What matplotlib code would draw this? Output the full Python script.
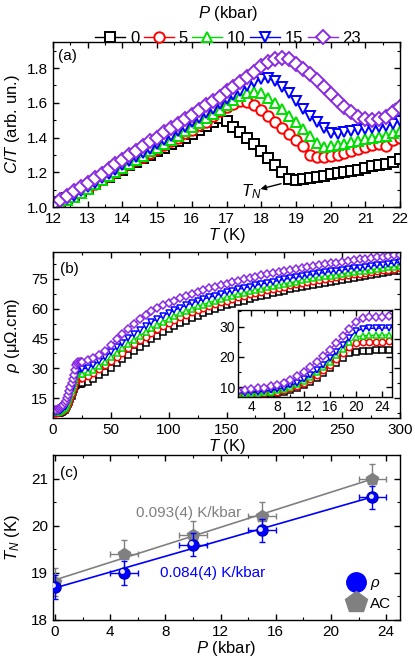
import matplotlib
matplotlib.use('Agg')
import matplotlib.pyplot as plt
from matplotlib.ticker import MultipleLocator
from matplotlib.transforms import offset_copy

plt.rcParams['font.family'] = 'Liberation Sans'
plt.rcParams['mathtext.fontset'] = 'custom'
plt.rcParams['mathtext.rm'] = 'Liberation Sans'
plt.rcParams['mathtext.it'] = 'Liberation Sans:italic'
plt.rcParams['font.size'] = 11
plt.rcParams['axes.linewidth'] = 1.0

# pressures and styles
pressures = ['0', '5', '10', '15', '23']
colors = ['#000000', '#ff0000', '#00dd00', '#0000ff', '#8a2be2']
markers = ['s', 'o', '^', 'v', 'D']

# (a) specific heat C/T vs T
T_cp = [12.0, 12.2, 12.4, 12.6, 12.8, 13.0, 13.2, 13.4, 13.6, 13.8,
        14.0, 14.2, 14.4, 14.6, 14.8, 15.0, 15.2, 15.4, 15.6, 15.8,
        16.0, 16.2, 16.4, 16.6, 16.8, 17.0, 17.2, 17.4, 17.6, 17.8,
        18.0, 18.2, 18.4, 18.6, 18.8, 19.0, 19.2, 19.4, 19.6, 19.8,
        20.0, 20.2, 20.4, 20.6, 20.8, 21.0, 21.2, 21.4, 21.6, 21.8, 22.0]
cp_0 = [1.01, 1.03, 1.05, 1.07, 1.09, 1.11, 1.13, 1.155, 1.175, 1.195,
        1.215, 1.24, 1.26, 1.28, 1.30, 1.32, 1.34, 1.36, 1.38, 1.40,
        1.42, 1.445, 1.465, 1.49, 1.51, 1.495, 1.46, 1.43, 1.40, 1.36,
        1.32, 1.28, 1.24, 1.20, 1.16, 1.155, 1.16, 1.165, 1.17, 1.18,
        1.19, 1.195, 1.20, 1.21, 1.215, 1.225, 1.235, 1.24, 1.25, 1.26, 1.275]
cp_5 = [1.005, 1.03, 1.05, 1.07, 1.09, 1.11, 1.135, 1.16, 1.18, 1.20,
        1.225, 1.245, 1.27, 1.29, 1.31, 1.335, 1.355, 1.38, 1.40, 1.425,
        1.445, 1.47, 1.49, 1.525, 1.55, 1.575, 1.595, 1.61, 1.605, 1.59,
        1.56, 1.525, 1.49, 1.455, 1.42, 1.385, 1.35, 1.30, 1.285, 1.29,
        1.295, 1.30, 1.31, 1.325, 1.335, 1.345, 1.355, 1.365, 1.35, 1.385, 1.40]
cp_10 = [1.00, 1.02, 1.04, 1.06, 1.08, 1.105, 1.13, 1.155, 1.18, 1.20,
         1.225, 1.25, 1.27, 1.295, 1.32, 1.34, 1.365, 1.385, 1.41, 1.435,
         1.46, 1.485, 1.51, 1.535, 1.56, 1.59, 1.615, 1.64, 1.655, 1.66,
         1.655, 1.63, 1.60, 1.565, 1.525, 1.49, 1.45, 1.41, 1.37, 1.345,
         1.35, 1.355, 1.365, 1.375, 1.38, 1.39, 1.40, 1.405, 1.41, 1.425, 1.44]
cp_15 = [1.00, 1.025, 1.045, 1.065, 1.09, 1.115, 1.14, 1.165, 1.19, 1.215,
         1.24, 1.265, 1.29, 1.31, 1.335, 1.36, 1.385, 1.41, 1.435, 1.46,
         1.49, 1.515, 1.54, 1.565, 1.595, 1.62, 1.645, 1.67, 1.695, 1.72,
         1.735, 1.74, 1.725, 1.69, 1.655, 1.61, 1.565, 1.525, 1.49, 1.455,
         1.425, 1.42, 1.43, 1.44, 1.445, 1.45, 1.455, 1.46, 1.465, 1.48, 1.495]
cp_23 = [1.015, 1.04, 1.065, 1.09, 1.115, 1.14, 1.165, 1.19, 1.22, 1.245,
         1.27, 1.30, 1.325, 1.35, 1.38, 1.40, 1.43, 1.455, 1.48, 1.505,
         1.53, 1.56, 1.585, 1.61, 1.635, 1.665, 1.69, 1.72, 1.75, 1.78,
         1.81, 1.835, 1.85, 1.86, 1.85, 1.825, 1.795, 1.765, 1.73, 1.69,
         1.65, 1.61, 1.575, 1.545, 1.52, 1.505, 1.50, 1.505, 1.52, 1.545, 1.575]

# (b) resistivity vs T (first 24 points also go in the inset)
T_rho = [2, 3, 4, 5, 6, 7, 8, 9, 10, 11, 12, 13, 14, 15, 16, 17, 18, 19, 20, 21, 22, 23, 24,
         25, 30, 35, 40, 45, 50, 55, 60, 65, 70, 75, 80, 85, 90, 95, 100,
         105, 110, 115, 120, 125, 130, 135, 140, 145, 150, 155, 160, 165, 170, 175, 180,
         185, 190, 195, 200, 205, 210, 215, 220, 225, 230, 235, 240, 245, 250,
         255, 260, 265, 270, 275, 280, 285, 290, 295, 300]
rho_0 = [7.4, 7.4, 7.5, 7.6, 7.7, 7.9, 8.2, 8.6, 9.1, 9.9, 10.8, 11.9, 13.2, 14.7, 16.3,
         18.0, 19.6, 21.2, 21.8, 22.0, 22.1, 22.2, 22.3] + \
        [22.4, 23.2, 24.7, 26.5, 28.4, 30.4, 32.5, 34.6, 36.7, 38.8, 40.8, 42.8, 44.7, 46.5,
         48.2, 49.8, 51.3, 52.7, 54.0, 55.3, 56.5, 57.6, 58.7, 59.7, 60.7, 61.6, 62.5, 63.3,
         64.1, 64.9, 65.7, 66.4, 67.1, 67.8, 68.5, 69.1, 69.7, 70.3, 70.9, 71.5, 72.1, 72.6,
         73.1, 73.6, 74.1, 74.6, 75.1, 75.6, 76.0, 76.5, 76.9, 77.4, 77.8, 78.3, 78.7, 79.2]
rho_5 = [7.6, 7.7, 7.8, 7.9, 8.0, 8.3, 8.6, 9.1, 9.7, 10.5, 11.5, 12.7, 14.1, 15.7, 17.5,
         19.4, 21.3, 23.2, 24.6, 24.9, 25.0, 25.0, 25.1] + \
        [25.2, 25.9, 27.6, 29.5, 31.5, 33.6, 35.8, 37.9, 40.0, 42.1, 44.1, 46.0, 47.9, 49.6,
         51.3, 52.8, 54.2, 55.6, 56.9, 58.1, 59.2, 60.3, 61.3, 62.3, 63.2, 64.1, 64.9, 65.7,
         66.5, 67.2, 67.9, 68.6, 69.3, 69.9, 70.5, 71.1, 71.7, 72.3, 72.8, 73.4, 73.9, 74.4,
         74.9, 75.4, 75.8, 76.3, 76.7, 77.2, 77.6, 78.0, 78.5, 78.9, 79.3, 79.7, 80.1, 80.5]
rho_10 = [7.8, 7.9, 8.0, 8.1, 8.3, 8.6, 9.0, 9.5, 10.1, 11.0, 12.1, 13.4, 14.9, 16.6, 18.5,
          20.6, 22.7, 24.8, 26.6, 27.0, 27.1, 27.2, 27.2] + \
         [27.3, 28.0, 29.4, 31.3, 33.4, 35.6, 37.9, 40.1, 42.3, 44.4, 46.4, 48.3, 50.1, 51.8,
          53.4, 54.9, 56.3, 57.6, 58.9, 60.0, 61.1, 62.1, 63.1, 64.0, 64.9, 65.7, 66.5, 67.3,
          68.0, 68.7, 69.4, 70.1, 70.7, 71.3, 71.9, 72.5, 73.1, 73.6, 74.2, 74.7, 75.2, 75.7,
          76.2, 76.6, 77.1, 77.5, 78.0, 78.4, 78.8, 79.2, 79.6, 80.0, 80.4, 80.8, 81.2, 81.6]
rho_15 = [8.1, 8.2, 8.3, 8.5, 8.7, 9.0, 9.4, 9.9, 10.6, 11.5, 12.6, 14.0, 15.6, 17.4, 19.5,
          21.7, 24.0, 26.3, 28.5, 29.3, 29.4, 29.5, 29.5] + \
         [29.6, 30.2, 31.7, 33.6, 35.8, 38.1, 40.5, 42.9, 45.2, 47.4, 49.5, 51.4, 53.2, 54.9,
          56.4, 57.9, 59.2, 60.5, 61.7, 62.8, 63.8, 64.8, 65.7, 66.6, 67.4, 68.2, 69.0, 69.7,
          70.4, 71.1, 71.8, 72.4, 73.0, 73.6, 74.2, 74.8, 75.3, 75.8, 76.3, 76.8, 77.3, 77.8,
          78.2, 78.7, 79.1, 79.5, 79.9, 80.3, 80.7, 81.1, 81.5, 81.8, 82.2, 82.6, 82.9, 83.3]
rho_23 = [8.9, 9.0, 9.3, 9.6, 9.9, 10.3, 10.8, 11.5, 12.4, 13.7, 15.2, 16.8, 18.5, 20.4, 22.4,
          24.6, 26.8, 29.2, 31.7, 32.8, 33.1, 33.2, 33.3] + \
         [33.4, 34.0, 35.2, 36.8, 38.9, 41.8, 44.5, 47.3, 50.0, 52.5, 54.8, 56.8, 58.6, 60.2,
          61.6, 62.9, 64.1, 65.3, 66.4, 67.4, 68.4, 69.3, 70.2, 71.0, 71.8, 72.5, 73.3, 74.0,
          74.7, 75.4, 76.0, 76.7, 77.3, 77.9, 78.4, 79.0, 79.5, 80.0, 80.5, 81.0, 81.5, 82.0,
          82.4, 82.8, 83.2, 83.6, 84.0, 84.4, 84.8, 85.2, 85.5, 85.9, 86.2, 86.5, 86.8, 87.1]

# (c) T_N vs pressure
P_pts = [0, 5, 10, 15, 23]
TN_rho = [18.7, 19.0, 19.6, 19.9, 20.6]
TN_rho_yerr = [0.25, 0.25, 0.25, 0.25, 0.25]
TN_ac = [18.8, 19.4, 19.8, 20.2, 21.0]
TN_ac_yerr = [0.3, 0.3, 0.3, 0.3, 0.3]
P_xerr = [0, 1, 1, 1, 1]
fit_P = [0, 23]
fit_rho = [18.68, 20.61]
fit_ac = [18.85, 20.99]

cp_all = [cp_0, cp_5, cp_10, cp_15, cp_23]
rho_all = [rho_0, rho_5, rho_10, rho_15, rho_23]


def style(ax):
    ax.tick_params(which='both', direction='in', top=True, right=True, labelsize=11)
    ax.tick_params(which='major', length=4, width=1)
    ax.tick_params(which='minor', length=2.5, width=0.8)


fig = plt.figure(figsize=(4.15, 6.58), dpi=100)
ax1 = fig.add_axes([0.1277, 0.6854, 0.8362, 0.2508])
ax2 = fig.add_axes([0.1277, 0.3647, 0.8362, 0.2523])
axin = fig.add_axes([0.5735, 0.3967, 0.3711, 0.1322])
ax3 = fig.add_axes([0.1277, 0.0578, 0.8362, 0.2508])

# (a)
handles = []
for cp, c, m, p in zip(cp_all, colors, markers, pressures):
    ms = 7 if m == 'D' else 7.5
    h, = ax1.plot(T_cp, cp, color=c, marker=m, ms=ms, mfc='white', mec=c, mew=1.4,
                  lw=1, label=p)
    handles.append(h)
ax1.set_xlim(12, 22)
ax1.set_ylim(1.0, 1.95)
ax1.xaxis.set_major_locator(MultipleLocator(1))
ax1.xaxis.set_minor_locator(MultipleLocator(0.5))
ax1.yaxis.set_major_locator(MultipleLocator(0.2))
ax1.yaxis.set_minor_locator(MultipleLocator(0.1))
style(ax1)
ax1.set_xlabel('$T$ (K)', fontsize=12, labelpad=0)
ax1.set_ylabel('$C/T$ (arb. un.)', fontsize=12)
ax1.yaxis.set_label_coords(-0.088, 0.5)
ax1.text(0.015, 0.955, '(a)', transform=ax1.transAxes, va='top', fontsize=11)
ax1.text(17.72, 1.09, '$T_N$', fontsize=12, ha='center', va='center')
ax1.annotate('', xy=(17.9, 1.10), xytext=(18.65, 1.138),
             arrowprops=dict(arrowstyle='-|>', color='black', lw=1, mutation_scale=8))

fig.legend(handles=handles, loc='center', bbox_to_anchor=(0.55, 0.962), ncol=5,
           frameon=False, title='$P$ (kbar)', title_fontsize=12, fontsize=12,
           handlelength=1.8, handletextpad=0.3, columnspacing=0.25, borderpad=0,
           borderaxespad=0)

# (b)
for rho, c, m in zip(rho_all, colors, markers):
    ms = 4.3 if m == 'D' else 4.6
    ax2.plot(T_rho, rho, color=c, marker=m, ms=ms, mfc='white', mec=c, mew=1.1, lw=1)
ax2.set_xlim(0, 300)
ax2.set_ylim(5, 88.5)
ax2.xaxis.set_major_locator(MultipleLocator(50))
ax2.xaxis.set_minor_locator(MultipleLocator(25))
ax2.yaxis.set_major_locator(MultipleLocator(15))
ax2.yaxis.set_minor_locator(MultipleLocator(7.5))
style(ax2)
ax2.set_xlabel('$T$ (K)', fontsize=12, labelpad=0)
ax2.set_ylabel(r'$\rho$ (μΩ.cm)', fontsize=12)
ax2.yaxis.set_label_coords(-0.088, 0.5)
ax2.text(0.02, 0.94, '(b)', transform=ax2.transAxes, va='top', fontsize=11)

# inset
for rho, c, m in zip(rho_all, colors, markers):
    ms = 4.3 if m == 'D' else 4.6
    axin.plot(T_rho[:24], rho[:24], color=c, marker=m, ms=ms, mfc='white', mec=c,
              mew=1.1, lw=1)
axin.set_xlim(2, 25.5)
axin.set_ylim(6.8, 35.5)
axin.xaxis.set_major_locator(MultipleLocator(4))
axin.xaxis.set_minor_locator(MultipleLocator(2))
axin.yaxis.set_major_locator(MultipleLocator(10))
axin.yaxis.set_minor_locator(MultipleLocator(5))
style(axin)
axin.tick_params(labelsize=10, pad=2)

# (c)
ax3.plot(fit_P, fit_ac, color='#808080', lw=1.2, zorder=1)
ax3.plot(fit_P, fit_rho, color='#0000ff', lw=1.2, zorder=1)
ax3.errorbar(P_pts, TN_ac, xerr=P_xerr, yerr=TN_ac_yerr, fmt='p', color='#808080',
             ms=9, capsize=2, elinewidth=1, capthick=1, zorder=2)
ax3.errorbar(P_pts, TN_rho, xerr=P_xerr, yerr=TN_rho_yerr, fmt='o', color='#0000ff',
             mec='#0000c0', ms=8, capsize=2, elinewidth=1, capthick=1, zorder=3)
shine = offset_copy(ax3.transData, fig=fig, x=-1.3, y=1.3, units='points')
ax3.plot(P_pts, TN_rho, 'o', color='white', ms=2.5, alpha=0.85, transform=shine, zorder=4)
ax3.set_xlim(-0.15, 25)
ax3.set_ylim(18, 21.5)
ax3.xaxis.set_major_locator(MultipleLocator(4))
ax3.xaxis.set_minor_locator(MultipleLocator(2))
ax3.yaxis.set_major_locator(MultipleLocator(1))
ax3.yaxis.set_minor_locator(MultipleLocator(0.5))
style(ax3)
ax3.set_xlabel('$P$ (kbar)', fontsize=12, labelpad=0)
ax3.set_ylabel('$T_N$ (K)', fontsize=12)
ax3.yaxis.set_label_coords(-0.088, 0.5)
ax3.text(0.02, 0.93, '(c)', transform=ax3.transAxes, va='top', fontsize=11)
ax3.text(5.9, 20.27, '0.093(4) K/kbar', color='#808080', fontsize=11, va='center')
ax3.text(7.6, 19.0, '0.084(4) K/kbar', color='#0000ff', fontsize=11, va='center')

h_rho, = ax3.plot([], [], 'o', color='#0000ff', ms=14)
h_ac, = ax3.plot([], [], 'p', color='#808080', ms=16)
ax3.legend([h_rho, h_ac], [r'$\rho$', 'AC'], loc='lower right', frameon=False,
           fontsize=11, handlelength=1.2, handletextpad=0.3, labelspacing=0.3,
           borderaxespad=0.2)

fig.savefig('out.png', dpi=100)
